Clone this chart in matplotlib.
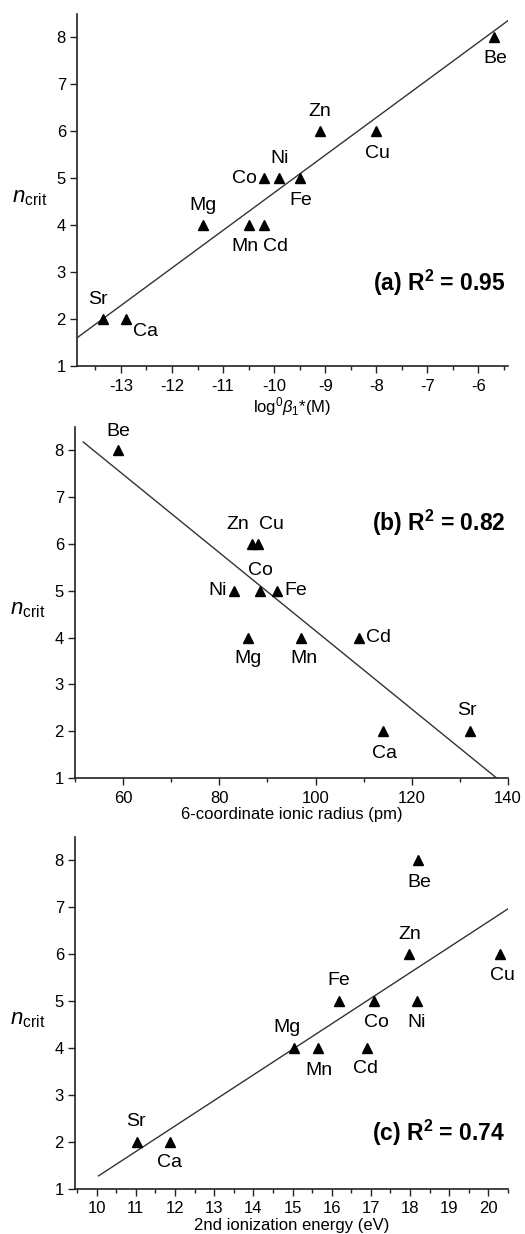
import numpy as np
from matplotlib import pyplot as plt
from matplotlib.ticker import MultipleLocator

plt.rcParams['font.family'] = ['Liberation Sans', 'DejaVu Sans']
plt.rcParams['mathtext.fontset'] = 'custom'
plt.rcParams['mathtext.rm'] = 'Liberation Sans'
plt.rcParams['mathtext.it'] = 'Liberation Sans:italic'
plt.rcParams['mathtext.bf'] = 'Liberation Sans:bold'
plt.rcParams['axes.unicode_minus'] = False

ELEMENTS = ['Be', 'Zn', 'Cu', 'Co', 'Ni', 'Fe', 'Mg', 'Mn', 'Cd', 'Sr', 'Ca']
N_CRIT = [8, 6, 6, 5, 5, 5, 4, 4, 4, 2, 2]

# (a) log0 beta1*(M)
LOG_BETA = [-5.7, -9.1, -8.0, -10.2, -9.9, -9.5, -11.4, -10.5, -10.2, -13.35, -12.9]
# (b) 6-coordinate ionic radius (pm)
RADIUS = [59, 86.8, 88.0, 88.5, 83, 92, 86, 97, 109, 132, 114]
# (c) 2nd ionization energy (eV)
IONIZ = [18.21, 17.96, 20.29, 17.08, 18.17, 16.19, 15.04, 15.64, 16.91, 11.03, 11.87]

# label offsets in points (dx, dy, ha)
OFFS_A = {
    'Be': (1, -15, 'center'), 'Zn': (0, 14, 'center'), 'Cu': (1, -16, 'center'),
    'Co': (-5, 0, 'right'), 'Ni': (0, 14, 'center'), 'Fe': (1, -16, 'center'),
    'Mg': (0, 14, 'center'), 'Mn': (-3, -15, 'center'), 'Cd': (8, -15, 'center'),
    'Sr': (-4, 14, 'center'), 'Ca': (5, -9, 'left'),
}
OFFS_B = {
    'Be': (0, 14, 'center'), 'Zn': (-2, 14, 'right'), 'Cu': (1, 14, 'left'),
    'Co': (0, 15, 'center'), 'Ni': (-5, 0, 'right'), 'Fe': (5, 0, 'left'),
    'Mg': (0, -15, 'center'), 'Mn': (2, -15, 'center'), 'Cd': (5, 0, 'left'),
    'Sr': (-2, 15, 'center'), 'Ca': (1, -16, 'center'),
}
OFFS_C = {
    'Be': (1, -16, 'center'), 'Zn': (1, 14, 'center'), 'Cu': (2, -15, 'center'),
    'Co': (2, -15, 'center'), 'Ni': (0, -15, 'center'), 'Fe': (0, 15, 'center'),
    'Mg': (-5, 15, 'center'), 'Mn': (1, -16, 'center'), 'Cd': (-1, -15, 'center'),
    'Sr': (-1, 15, 'center'), 'Ca': (0, -15, 'center'),
}

PANELS = [
    dict(x=LOG_BETA, xlim=(-13.86, -5.42), major=1, minor=0.5, fit=(-13.86, -5.42),
         xlabel=r'log$^{0}\beta_{1}$*(M)', tag=r'(a) R$^{\mathbf{2}}$ = 0.95',
         tag_y=0.236, offs=OFFS_A, rect=[0.1467, 0.7034, 0.821, 0.2853]),
    dict(x=RADIUS, xlim=(50, 140), major=20, minor=10, fit=(51.7, 137.6),
         xlabel='6-coordinate ionic radius (pm)', tag=r'(b) R$^{\mathbf{2}}$ = 0.82',
         tag_y=0.726, offs=OFFS_B, rect=[0.1429, 0.3695, 0.8248, 0.2844]),
    dict(x=IONIZ, xlim=(9.45, 20.5), major=1, minor=0.5, fit=(10.05, 20.5),
         xlabel='2nd ionization energy (eV)', tag=r'(c) R$^{\mathbf{2}}$ = 0.74',
         tag_y=0.159, offs=OFFS_C, rect=[0.1429, 0.0365, 0.8248, 0.2853]),
]

fig = plt.figure(figsize=(5.25, 12.34), dpi=100)

for p in PANELS:
    ax = fig.add_axes(p['rect'])
    x = np.array(p['x'])
    y = np.array(N_CRIT)

    # linear fit line
    slope, icpt = np.polyfit(x, y, 1)
    xf = np.linspace(p['fit'][0], p['fit'][1], 50)
    ax.plot(xf, slope * xf + icpt, color='#333333', linewidth=1.0, zorder=2)

    ax.plot(x, y, '^', color='black', markersize=6.5, linestyle='none', zorder=3)

    for name, xi, yi in zip(ELEMENTS, x, y):
        dx, dy, ha = p['offs'][name]
        ax.annotate(name, (xi, yi), xytext=(dx, dy), textcoords='offset points',
                    ha=ha, va='center', fontsize=14)

    ax.set_xlim(*p['xlim'])
    ax.set_ylim(1, 8.5)
    ax.xaxis.set_major_locator(MultipleLocator(p['major']))
    ax.xaxis.set_minor_locator(MultipleLocator(p['minor']))
    ax.yaxis.set_major_locator(MultipleLocator(1))

    for side in ('top', 'right'):
        ax.spines[side].set_visible(False)
    for side in ('left', 'bottom'):
        ax.spines[side].set_linewidth(1.2)
        ax.spines[side].set_color('#222222')
    ax.tick_params(which='major', length=5, width=1.0, labelsize=12, color='#222222')
    ax.tick_params(which='minor', length=3, width=1.0, color='#222222')
    ax.tick_params(axis='x', pad=4)
    ax.tick_params(axis='y', pad=3)

    ax.set_xlabel(p['xlabel'], fontsize=12, labelpad=1)
    ax.text(-0.11, 0.48, r'$n$$_{\mathrm{crit}}$', transform=ax.transAxes,
            ha='center', va='center', fontsize=16)
    ax.text(0.993, p['tag_y'], p['tag'], transform=ax.transAxes,
            ha='right', va='center', fontsize=16.5, fontweight='bold')

fig.savefig('out.png', dpi=100)
